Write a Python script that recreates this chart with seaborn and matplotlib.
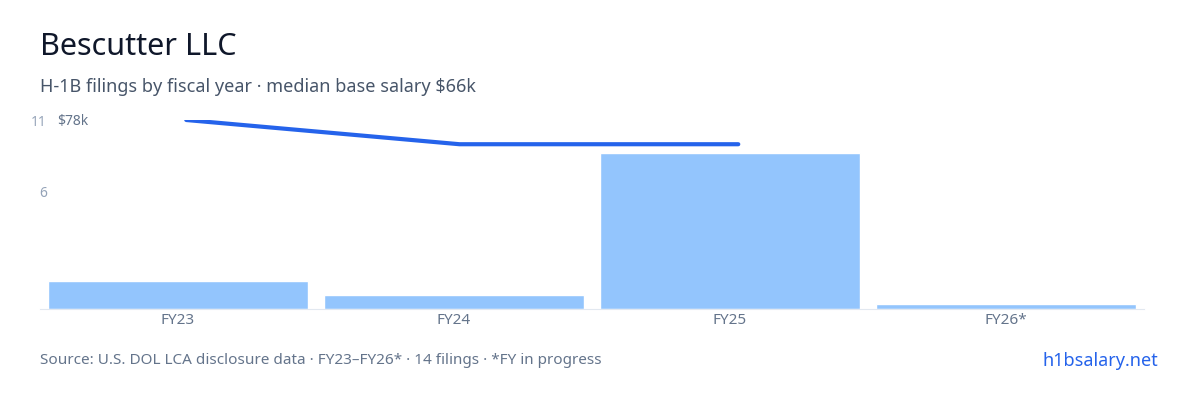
import matplotlib
matplotlib.use("Agg")
import matplotlib.pyplot as plt
import seaborn as sns
import pandas as pd

years = ["FY23", "FY24", "FY25", "FY26*"]
filings = [2, 1, 11, 0.35]
salary_years = ["FY23", "FY24", "FY25"]
salary_k = [78, 68, 68]

sns.set_style("white")
plt.rcParams['font.family'] = ['Noto Sans', 'DejaVu Sans']

fig = plt.figure(figsize=(12, 4), dpi=100)
ax = fig.add_axes([40/1200, 1-309/400, 1104/1200, 189/400])
df = pd.DataFrame({"year": years, "n": filings})
sns.barplot(data=df, x="year", y="n", color="#93c5fd", width=0.94, ax=ax, saturation=1)
ax.set_ylim(0, 13.3)
ax.set_xlim(-0.5, 3.5)
ax.yaxis.tick_right()
ax.set_yticks([8.3, 13.3])
ax.set_yticklabels(["6", "11"], color="#94a3b8", fontsize=10)
ax.tick_params(axis="y", length=0, pad=-5)
ax.set_xlabel(""); ax.set_ylabel("")
ax.tick_params(axis="x", length=0, labelsize=11, labelcolor="#64748b", pad=3)
for s in ["top", "right", "left"]:
    ax.spines[s].set_visible(False)
ax.spines["bottom"].set_color("#e2e8f0")

ax2 = ax.twinx()
ax2.set_ylim(0, 78)
sdf = pd.DataFrame({"x": [0.03, 1.02, 2.03], "s": salary_k})
sns.lineplot(data=sdf, x="x", y="s", color="#2563eb", linewidth=3, ax=ax2)
ax2.set_xlim(-0.5, 3.5)
ax2.yaxis.tick_left()
ax2.set_yticks([78])
ax2.set_yticklabels(["$78k"], color="#64748b", fontsize=10)
ax2.tick_params(axis="y", length=0, pad=-35)
ax2.set_ylabel(""); ax2.set_xlabel("")
for s in ax2.spines.values():
    s.set_visible(False)

fig.text(40/1200, 1-47/400, "Bescutter LLC", fontsize=22, color="#0f172a", va="center")
fig.text(40/1200, 1-87/400, "H-1B filings by fiscal year · median base salary $66k", fontsize=13, color="#475569", va="center")
fig.text(40/1200, 1-361/400, "Source: U.S. DOL LCA disclosure data · FY23–FY26* · 14 filings · *FY in progress", fontsize=11, color="#64748b", va="center")
fig.text(1158/1200, 1-361/400, "h1bsalary.net", fontsize=13, color="#2563eb", va="center", ha="right")
fig.savefig("out.png", dpi=100)
